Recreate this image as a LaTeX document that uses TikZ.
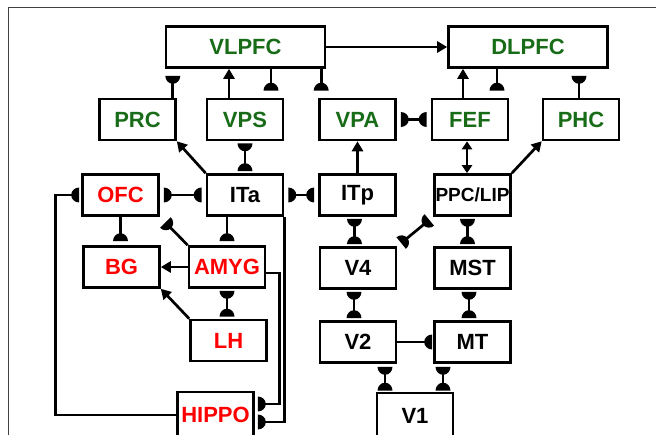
\documentclass[tikz,border=0pt]{standalone}
\usepackage{fontspec}
\setmainfont{Liberation Sans}
\usetikzlibrary{arrows.meta}
\definecolor{pfcgreen}{RGB}{24,108,24}

\pgfdeclarearrow{
  name = Syn,
  parameters = {\the\pgfarrowlength,\the\pgfarrowwidth},
  setup code = {
    \pgfarrowssettipend{0pt}
    \pgfarrowssetlineend{-.5\pgfarrowlength}
    \pgfarrowssetbackend{-\pgfarrowlength}
    \pgfarrowsupperhullpoint{0pt}{.5\pgfarrowwidth}
    \pgfarrowsupperhullpoint{-\pgfarrowlength}{0pt}
    \pgfarrowssavethe\pgfarrowlength
    \pgfarrowssavethe\pgfarrowwidth
  },
  drawing code = {
    \pgfpathmoveto{\pgfqpoint{0pt}{.5\pgfarrowwidth}}
    \pgfpatharc{90}{270}{\pgfarrowlength and .5\pgfarrowwidth}
    \pgfpathclose
    \pgfusepathqfill
  },
  defaults = {length=8pt, width=15pt}
}

\begin{document}
\begin{tikzpicture}[x=1pt, y=-1pt,
    area/.style={draw, line width=2.6pt, minimum width=76pt, minimum height=41pt,
      inner sep=0pt, font=\bfseries\fontsize{22}{22}\selectfont},
    wide/.style={area, minimum width=159pt},
    link/.style={line width=2.7pt},
    arr/.style={link, -{Triangle[length=10pt,width=11pt]}},
    arrs/.style={link, {Triangle[length=8pt,width=10pt]}-{Triangle[length=8pt,width=10pt]}},
    syn/.style={link, -{Syn}, shorten >=4pt},
    syns/.style={link, {Syn}-{Syn}, shorten >=4pt, shorten <=4pt}]
    \useasboundingbox (0,0) rectangle (656,435);
    \draw[line width=1pt, black!75] (656,8) -- (8,8) -- (8,435);

    \node[wide, text=pfcgreen] (VLPFC) at (245.5,47) {VLPFC};
    \node[wide, text=pfcgreen] (DLPFC) at (528,47) {DLPFC};
    \node[area, text=pfcgreen] (PRC) at (137.5,119.5) {PRC};
    \node[area, text=pfcgreen] (VPS) at (245,119.5) {VPS};
    \node[area, text=pfcgreen] (VPA) at (357.5,119.5) {VPA};
    \node[area, text=pfcgreen] (FEF) at (470,119.5) {FEF};
    \node[area, text=pfcgreen] (PHC) at (581,119.5) {PHC};
    \node[area, text=red] (OFC) at (120.5,195) {OFC};
    \node[area] (ITa) at (245,195) {ITa};
    \node[area] (ITp) at (357.5,195) {ITp};
    \node[area, font=\bfseries\fontsize{19}{19}\selectfont] (PPC) at (472.5,195) {PPC/LIP};
    \node[area, text=red] (BG) at (121.5,267) {BG};
    \node[area, text=red] (AMYG) at (227,267) {AMYG};
    \node[area] (V4) at (358,268) {V4};
    \node[area] (MST) at (472.5,268) {MST};
    \node[area, text=red] (LH) at (228.5,340.5) {LH};
    \node[area] (V2) at (358,342) {V2};
    \node[area] (MT) at (472.5,342) {MT};
    \node[area, text=red, minimum height=46pt] (HIPPO) at (215.5,415) {HIPPO};
    \node[area, minimum height=46pt] (V1) at (415,416) {V1};

    \draw[arr] (VLPFC) -- (DLPFC);
    \draw[syn, shorten >=7pt] ([xshift=-4pt]PRC.north east) -- ([xshift=-4pt]PRC.north east |- VLPFC.south);
    \draw[arr] ([xshift=-16pt]VPS.north) -- ([xshift=-16pt]VPS.north |- VLPFC.south);
    \draw[syn, shorten >=7pt] ([xshift=26pt]VPS.north |- VLPFC.south) -- ([xshift=26pt]VPS.north);
    \draw[syn, shorten >=7pt] ([xshift=3pt]VPA.north west |- VLPFC.south) -- ([xshift=3pt]VPA.north west);
    \draw[arr] ([xshift=-7pt]FEF.north) -- ([xshift=-7pt]FEF.north |- DLPFC.south);
    \draw[syn, shorten >=7pt] ([xshift=27pt]FEF.north |- DLPFC.south) -- ([xshift=27pt]FEF.north);
    \draw[syn, shorten >=7pt] ([xshift=-2pt]PHC.north) -- ([xshift=-2pt]PHC.north |- DLPFC.south);

    \draw[syns] (VPA) -- (FEF);
    \draw[arrs] ([xshift=-3pt]FEF.south) -- ([xshift=-3pt]FEF.south |- PPC.north);
    \draw[arr] (PPC.north east) -- (PHC.south west);
    \draw[arr] (ITp.north) -- (VPA.south);
    \draw[syns, shorten >=2pt, shorten <=2pt] (ITa.north) -- (VPS.south);
    \draw[arr] (ITa.north west) -- (PRC.south east);
    \draw[syns] (ITa) -- (OFC);
    \draw[syns] (ITa) -- (ITp);

    \draw[syn, shorten >=2pt] (HIPPO.west) -| ([xshift=-26pt]OFC.west) -- (OFC.west);
    \draw[syn] (OFC.south) -- (OFC.south |- BG.north);
    \draw[syn, shorten >=8pt] (AMYG.north west) -- (OFC.south east);
    \draw[syn] (AMYG.north |- ITa.south) -- (AMYG.north);
    \draw[arr] (AMYG) -- (BG);
    \draw[arr] (LH.north west) -- (BG.south east);
    \draw[syns, shorten >=2pt, shorten <=2pt] (AMYG.south) -- (AMYG.south |- LH.north);
    \draw[syn, shorten >=3pt] ([yshift=-6pt]AMYG.east) -- ++(13,0) |- ([yshift=11pt]HIPPO.east);
    \draw[syn, shorten >=3pt] (ITa.south east) |- ([yshift=-7pt]HIPPO.east);

    \draw[syns, shorten >=2pt, shorten <=2pt] ([xshift=-3pt]ITp.south) -- ([xshift=-3pt]ITp.south |- V4.north);
    \draw[syns, shorten >=5pt, shorten <=5pt] (V4.north east) -- (PPC.south west);
    \draw[syns, shorten >=2pt, shorten <=2pt] ([xshift=-5pt]PPC.south) -- ([xshift=-5pt]PPC.south |- MST.north);
    \draw[syns, shorten >=2pt, shorten <=2pt] ([xshift=-4pt]V4.south) -- ([xshift=-4pt]V4.south |- V2.north);
    \draw[syns, shorten >=2pt, shorten <=2pt] ([xshift=-3.5pt]MST.south) -- ([xshift=-3.5pt]MST.south |- MT.north);
    \draw[syn, shorten >=1pt] (V2) -- (MT);
    \draw[syns, shorten >=1pt, shorten <=3pt] ([xshift=-30pt]V1.north |- V2.south) -- ([xshift=-30pt]V1.north);
    \draw[syns, shorten >=1pt, shorten <=3pt] ([xshift=28pt]V1.north |- MT.south) -- ([xshift=28pt]V1.north);
\end{tikzpicture}
\end{document}
